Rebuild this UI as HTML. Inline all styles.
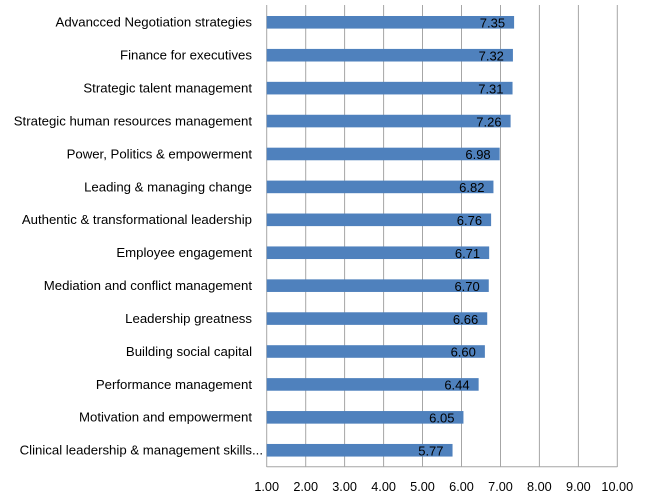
<!DOCTYPE html>
<html><head><style>body{margin:0;background:#fff}</style></head><body>
<svg width="650" height="496" xmlns="http://www.w3.org/2000/svg" font-family="Liberation Sans, Arial, sans-serif">
<rect width="650" height="496" fill="#fff"/>
<g stroke="#a6a6a6" stroke-width="1">
<line x1="305.7" y1="5" x2="305.7" y2="467"/><line x1="344.6" y1="5" x2="344.6" y2="467"/><line x1="383.6" y1="5" x2="383.6" y2="467"/><line x1="422.5" y1="5" x2="422.5" y2="467"/><line x1="461.5" y1="5" x2="461.5" y2="467"/><line x1="500.5" y1="5" x2="500.5" y2="467"/><line x1="539.4" y1="5" x2="539.4" y2="467"/><line x1="578.4" y1="5" x2="578.4" y2="467"/><line x1="617.3" y1="5" x2="617.3" y2="467"/>
<line x1="266.7" y1="5" x2="266.7" y2="467"/><line x1="266.7" y1="466.7" x2="617.3" y2="466.7"/>
</g>
<g fill="#4f81bd" id="bars"></g>
<g id="labels" font-size="13.2" fill="#000"></g>
<g font-size="12.7" text-anchor="middle" fill="#000">
<text x="266.7" y="491">1.00</text><text x="305.7" y="491">2.00</text><text x="344.6" y="491">3.00</text><text x="383.6" y="491">4.00</text><text x="422.5" y="491">5.00</text><text x="461.5" y="491">6.00</text><text x="500.5" y="491">7.00</text><text x="539.4" y="491">8.00</text><text x="578.4" y="491">9.00</text><text x="617.3" y="491">10.00</text>
</g>
<script>
var d=[["Advancced Negotiation strategies",7.35],["Finance for executives",7.32],["Strategic talent management",7.31],["Strategic human resources management",7.26],["Power, Politics & empowerment",6.98],["Leading & managing change",6.82],["Authentic & transformational leadership",6.76],["Employee engagement",6.71],["Mediation and conflict management",6.70],["Leadership greatness",6.66],["Building social capital",6.60],["Performance management",6.44],["Motivation and empowerment",6.05],["Clinical leadership & management skills...",5.77]];
var ns="http://www.w3.org/2000/svg",b=document.getElementById("bars"),l=document.getElementById("labels");
d.forEach(function(r,i){var y=16+i*32.92,x2=266.7+(r[1]-1)*38.96;
var rc=document.createElementNS(ns,"rect");rc.setAttribute("x",266.7);rc.setAttribute("y",y);rc.setAttribute("width",x2-266.7);rc.setAttribute("height",12.6);b.appendChild(rc);
var t=document.createElementNS(ns,"text");t.setAttribute("x",i==13?263:252);t.setAttribute("y",y+10.7);t.setAttribute("text-anchor","end");t.textContent=r[0];l.appendChild(t);
var v=document.createElementNS(ns,"text");v.setAttribute("x",x2-9);v.setAttribute("y",y+11.5);v.setAttribute("text-anchor","end");v.setAttribute("font-size","13");v.textContent=r[1].toFixed(2);l.appendChild(v);});
</script>
</svg>
</body></html>
